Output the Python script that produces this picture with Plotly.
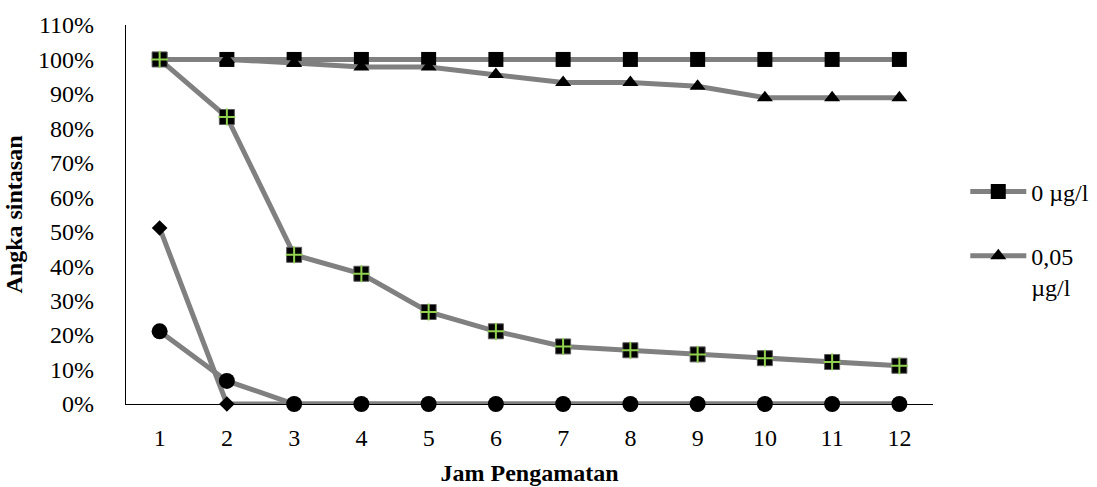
import plotly.graph_objects as go

hours = [1, 2, 3, 4, 5, 6, 7, 8, 9, 10, 11, 12]
s_0 = [100, 100, 100, 100, 100, 100, 100, 100, 100, 100, 100, 100]
s_005 = [100, 100, 99, 97.8, 97.8, 95.6, 93.3, 93.3, 92.2, 88.9, 88.9, 88.9]
s_cross = [100, 83.3, 43.3, 37.8, 26.7, 21.1, 16.7, 15.6, 14.4, 13.3, 12.2, 11.1]
s_diamond = [51.1, 0, 0, 0, 0, 0, 0, 0, 0, 0, 0, 0]
s_circle = [21.1, 6.7, 0, 0, 0, 0, 0, 0, 0, 0, 0, 0]
names = ["0 µg/l", "0,05<br>µg/l", "0,1 µg/l", "0,5 µg/l", "1 µg/l"]
y_ticks = list(range(0, 111, 10))
y_tick_text = [f"{v}%" for v in y_ticks]

FONT = "Liberation Serif"
FS = 24
LINE = dict(color="#808080", width=5)

fig = go.Figure()
fig.add_trace(go.Scatter(x=hours, y=s_0, mode="lines+markers", name=names[0],
                         line=LINE, legendgroup="a", cliponaxis=False,
                         marker=dict(symbol="square", size=15, color="black")))
fig.add_trace(go.Scatter(x=hours, y=s_005, mode="lines+markers", name=names[1],
                         line=LINE, legendgroup="b", cliponaxis=False,
                         marker=dict(symbol="triangle-up", size=14, color="black")))
fig.add_trace(go.Scatter(x=hours, y=s_cross, mode="lines+markers", name=names[2],
                         line=LINE, showlegend=False, cliponaxis=False,
                         marker=dict(symbol="square", size=15, color="black",
                                     line=dict(color="#5a5a5a", width=1))))
fig.add_trace(go.Scatter(x=hours, y=s_cross, mode="markers", showlegend=False,
                         hoverinfo="skip", cliponaxis=False,
                         marker=dict(symbol="cross-thin", size=12, color="#92D050",
                                     line=dict(color="#92D050", width=2))))
fig.add_trace(go.Scatter(x=hours, y=s_diamond, mode="lines+markers", name=names[3],
                         line=LINE, showlegend=False, cliponaxis=False,
                         marker=dict(symbol="diamond", size=12, color="black")))
fig.add_trace(go.Scatter(x=hours, y=s_circle, mode="lines+markers", name=names[4],
                         line=LINE, showlegend=False, cliponaxis=False,
                         marker=dict(symbol="circle", size=16, color="black")))

fig.update_layout(
    width=1118, height=487,
    margin=dict(l=126, r=185, t=25, b=83),
    paper_bgcolor="white", plot_bgcolor="white",
    font=dict(family=FONT, size=FS, color="black"),
    showlegend=True,
    legend=dict(x=1.040, xanchor="left", y=0.619, yanchor="top",
                font=dict(family=FONT, size=FS, color="black"),
                traceorder="grouped", tracegroupgap=30, valign="top",
                itemwidth=56, bgcolor="rgba(0,0,0,0)"),
    xaxis=dict(range=[0.5, 12.5], tickmode="array", tickvals=hours,
               ticktext=[str(h) for h in hours], showgrid=False, zeroline=False,
               showline=True, linecolor="black", linewidth=1.2, ticks="",
               ticklabelstandoff=12, automargin=False,
               title=dict(text="<b>Jam Pengamatan</b>", standoff=14,
                          font=dict(family=FONT, size=FS))),
    yaxis=dict(range=[0, 110], tickmode="array", tickvals=y_ticks,
               ticktext=y_tick_text, showgrid=False, zeroline=False,
               showline=True, linecolor="black", linewidth=1.2, ticks="",
               ticklabelstandoff=26, automargin=False,
               title=dict(text="<b>Angka sintasan</b>", standoff=8,
                          font=dict(family=FONT, size=FS))),
)

fig.write_html("out.html", config={"displayModeBar": False},
               post_script=("document.body.style.margin='0px';"
                            "document.body.style.overflow='hidden';"
                            "document.documentElement.style.overflow='hidden';"))
